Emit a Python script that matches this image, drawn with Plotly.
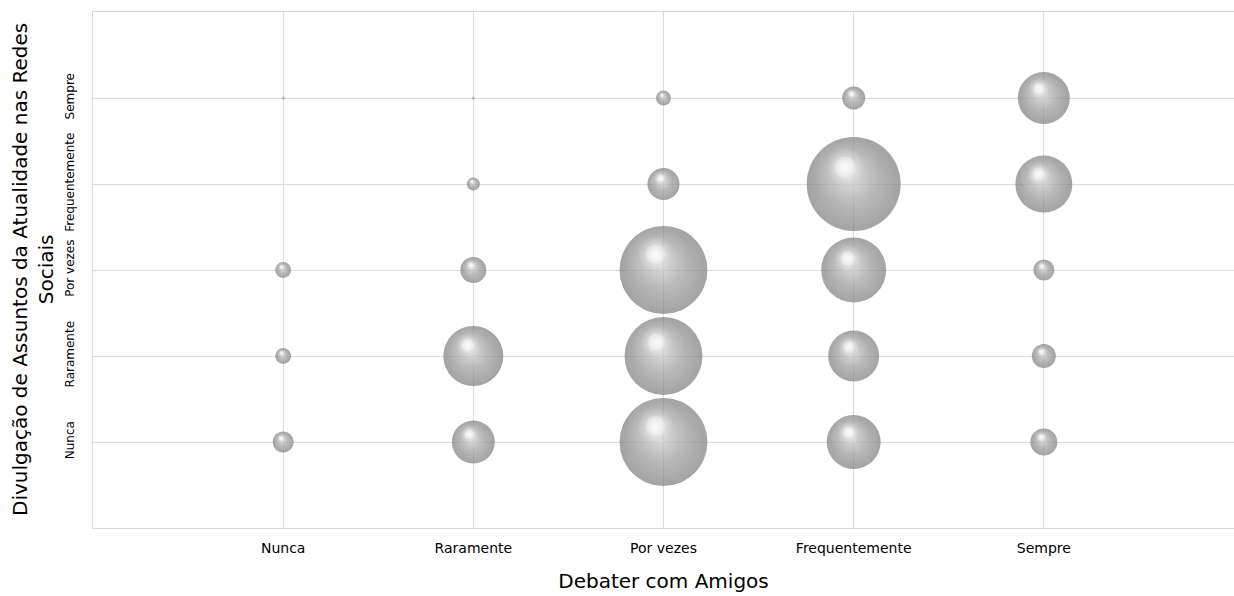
import plotly.graph_objects as go
import numpy as np

# ---- data ----
categories = ["Nunca", "Raramente", "Por vezes", "Frequentemente", "Sempre"]
# counts[row = Divulgação level][col = Debater level]
row_nunca = [49, 205, 860, 324, 81]
row_raramente = [28, 400, 676, 289, 64]
row_por_vezes = [28, 75, 860, 469, 49]
row_frequentemente = [0, 19, 114, 982, 361]
row_sempre = [1, 1, 25, 59, 300]
rows = [row_nunca, row_raramente, row_por_vezes, row_frequentemente, row_sempre]

x_title = "Debater com Amigos"
y_title = "Divulgação de Assuntos da Atualidade nas Redes<br>Sociais"

# ---- layout constants ----
W, H = 1234, 596
ML, MR, MT, MB = 93, 0, 12, 68
MAXD = 94.0
FONT = "DejaVu Sans"

xs, ys, vs = [], [], []
for ri, row in enumerate(rows):
    for ci, v in enumerate(row):
        xs.append(ci + 1)
        ys.append(ri + 1)
        vs.append(v)
xs = np.array(xs, float)
ys = np.array(ys, float)
vs = np.array(vs, float)
vmax = vs.max()
sizeref = 2.0 * vmax / MAXD ** 2
diam = MAXD * np.sqrt(vs / vmax)

px_per_x = (W - ML - MR) / 6.0
px_per_y = (H - MT - MB) / 6.0

fig = go.Figure()
# base sphere (radial: gradient.color = centre, marker.color = edge)
fig.add_trace(go.Scatter(
    x=xs, y=ys, mode="markers", hoverinfo="skip",
    marker=dict(size=vs, sizemode="area", sizeref=sizeref,
                color="#7c7c7c", line=dict(width=0),
                gradient=dict(type="radial", color="#b2b2b2")),
    showlegend=False))
# broad soft light
fig.add_trace(go.Scatter(
    x=xs - 0.08 * diam / px_per_x, y=ys + 0.14 * diam / px_per_y,
    mode="markers", hoverinfo="skip",
    marker=dict(size=vs * 0.5, sizemode="area", sizeref=sizeref,
                color="rgba(255,255,255,0)", line=dict(width=0),
                gradient=dict(type="radial", color="rgba(255,255,255,0.5)")),
    showlegend=False))
# sharp highlight
fig.add_trace(go.Scatter(
    x=xs - 0.09 * diam / px_per_x, y=ys + 0.18 * diam / px_per_y,
    mode="markers", hoverinfo="skip",
    marker=dict(size=vs * 0.17, sizemode="area", sizeref=sizeref,
                color="rgba(255,255,255,0)", line=dict(width=0),
                gradient=dict(type="radial", color="rgba(255,255,255,1)")),
    showlegend=False))
# core of highlight
fig.add_trace(go.Scatter(
    x=xs - 0.09 * diam / px_per_x, y=ys + 0.18 * diam / px_per_y,
    mode="markers", hoverinfo="skip",
    marker=dict(size=vs * 0.05, sizemode="area", sizeref=sizeref,
                color="rgba(255,255,255,0.35)", line=dict(width=0),
                gradient=dict(type="radial", color="rgba(255,255,255,1)")),
    showlegend=False))

axis_common = dict(range=[0, 6], showgrid=True, gridcolor="#dcdcdc", gridwidth=1,
                   zeroline=False, showline=True, linecolor="#d9d9d9", linewidth=1,
                   mirror=True, ticks="", tickvals=[1, 2, 3, 4, 5], ticktext=categories,
                   fixedrange=True)

fig.update_layout(
    width=W, height=H,
    margin=dict(l=ML, r=MR, t=MT, b=MB),
    paper_bgcolor="white", plot_bgcolor="white",
    font=dict(family=FONT, color="#000000"),
    xaxis=dict(**axis_common, tickfont=dict(size=14, family=FONT), ticklabelstandoff=7,
               title=dict(text=x_title, font=dict(size=20, family=FONT), standoff=19)),
    yaxis=dict(**axis_common, tickangle=-90, tickfont=dict(size=12, family=FONT),
               ticklabelstandoff=13),
    annotations=[dict(text=y_title, xref="paper", yref="paper", x=(33 - ML) / (W - ML - MR),
                      y=0.5, xanchor="center", yanchor="middle", textangle=-90,
                      showarrow=False, font=dict(size=20, family=FONT))],
)

fig.write_html("out.html", config={"displayModeBar": False},
               post_script="document.body.style.margin='0';document.body.style.overflow='hidden';")
